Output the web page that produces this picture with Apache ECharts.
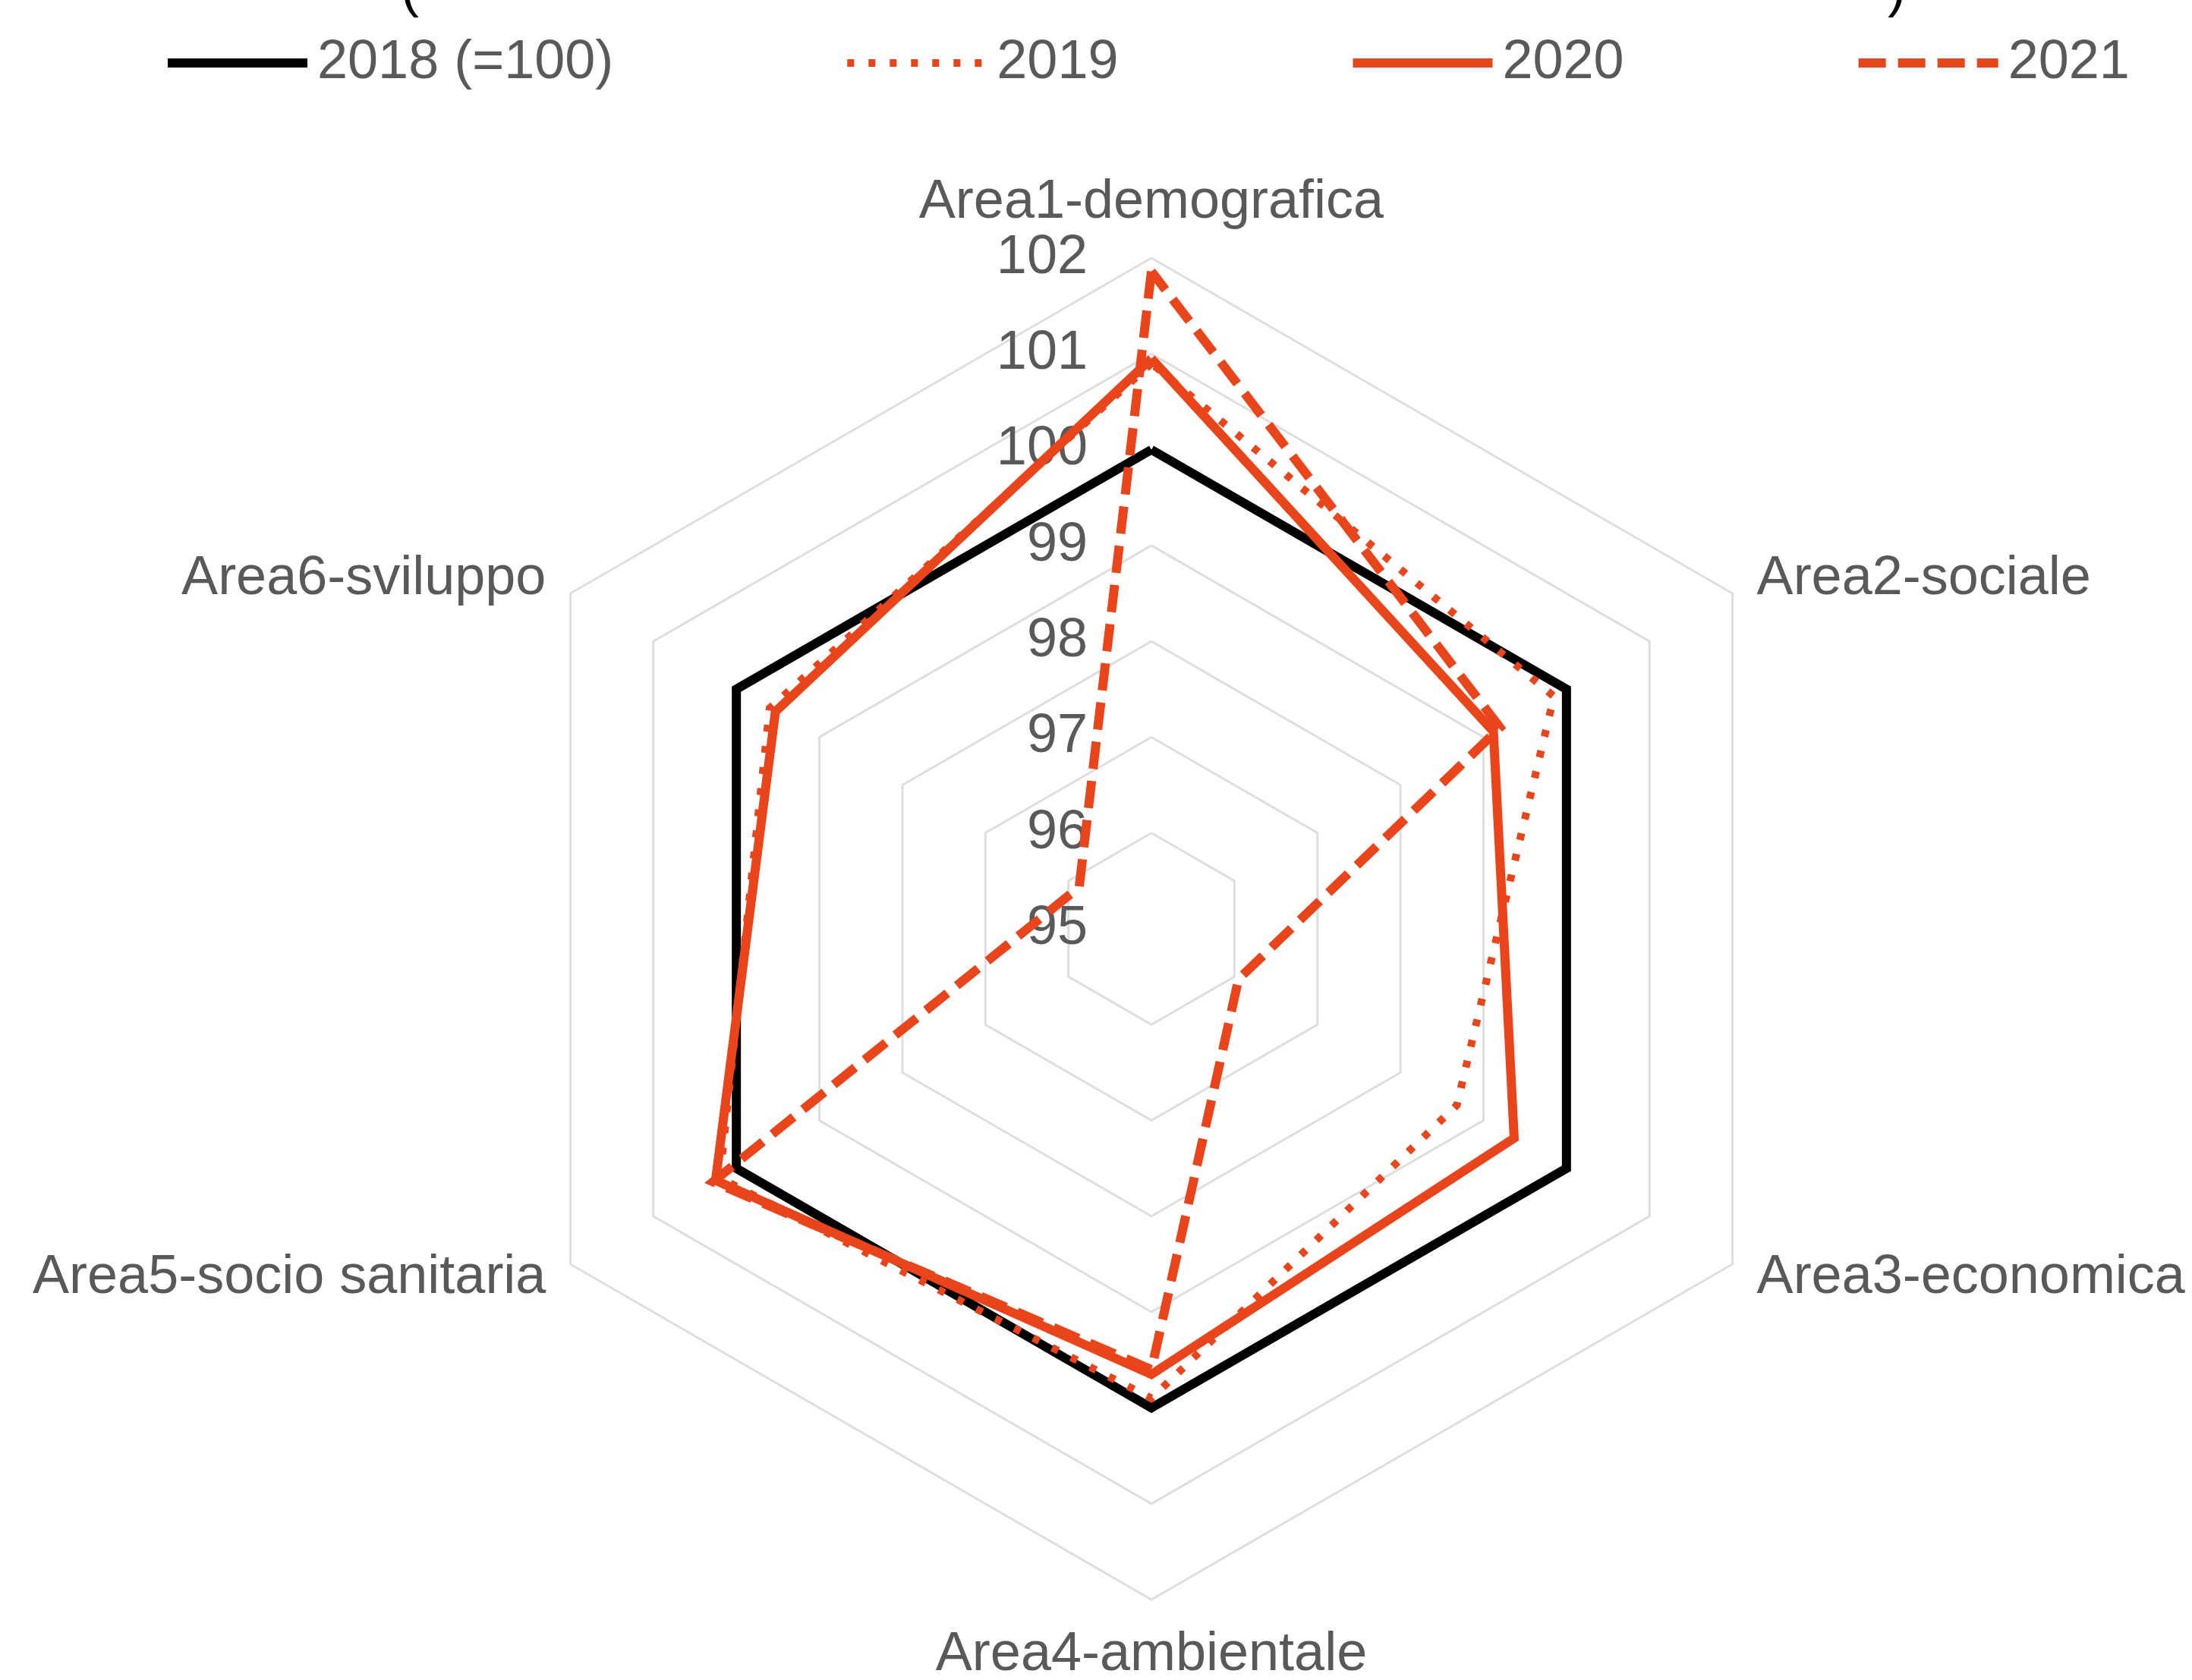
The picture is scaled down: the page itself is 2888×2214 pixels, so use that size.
<!DOCTYPE html>
<html>
<head>
<meta charset="utf-8">
<script src="https://cdn.jsdelivr.net/npm/echarts@6/dist/echarts.min.js"></script>
<style>
html,body{margin:0;padding:0;background:#fff;}
#chart{width:2888px;height:2214px;}
</style>
</head>
<body>
<div id="chart"></div>
<script>
// ---- data ----
var categories = ['Area1-demografica', 'Area2-sociale', 'Area3-economica', 'Area4-ambientale', 'Area5-socio sanitaria', 'Area6-sviluppo'];
var seriesNames = ['2018 (=100)', '2019', '2020', '2021'];
var values2018 = [100, 100, 100, 100, 100, 100];
var values2019 = [100.9, 99.85, 98.68, 99.9, 100.2, 99.6];
var values2020 = [100.95, 99.12, 99.37, 99.65, 100.25, 99.53];
var values2021 = [101.86, 99.2, 96.05, 99.6, 100.28, 95.87];
var axisMin = 95, axisMax = 102;

// ---- styles ----
var FONT = 'Liberation Sans, Arial, sans-serif';
var TEXT = '#595959';
var ORANGE = '#E9441A';
var styles = [
  {color: '#000000', width: 12, type: 'solid'},
  {color: ORANGE, width: 10, type: [9, 19]},
  {color: ORANGE, width: 12, type: 'solid'},
  {color: ORANGE, width: 12, type: [36, 16]}
];

// radar places indicators counter-clockwise; reorder so the order runs clockwise
var order = [0, 5, 4, 3, 2, 1];
var indicators = order.map(function (i, k) {
  var ind = {name: categories[i], min: axisMin, max: axisMax};
  if (k === 0) {
    ind.axisLabel = {show: true, fontSize: 72, color: TEXT, fontFamily: FONT, margin: 84, showMinLabel: true, showMaxLabel: true};
  }
  return ind;
});
function reorder(arr) { return order.map(function (i) { return arr[i]; }); }
var allValues = [values2018, values2019, values2020, values2021];

var series = [];
// empty line series only supply the line-style legend icons
seriesNames.forEach(function (n, i) {
  series.push({
    type: 'line', name: n, data: [], symbol: 'none', silent: true,
    xAxisIndex: 0, yAxisIndex: 0,
    lineStyle: {color: styles[i].color, width: styles[i].width, type: styles[i].type, cap: 'butt'},
    itemStyle: {color: styles[i].color}
  });
});
seriesNames.forEach(function (n, i) {
  series.push({
    type: 'radar', name: n, symbol: 'none', silent: true,
    lineStyle: {color: styles[i].color, width: styles[i].width, type: styles[i].type, cap: 'butt', join: 'miter'},
    itemStyle: {color: styles[i].color},
    data: [{value: reorder(allValues[i]), name: n}]
  });
});

var legendData = seriesNames.map(function (n, i) {
  return {
    name: n,
    lineStyle: {color: styles[i].color, width: styles[i].width, type: styles[i].type, cap: 'butt'},
    itemStyle: {color: 'rgba(0,0,0,0)', borderWidth: 0, opacity: 0}
  };
});

var chart = echarts.init(document.getElementById('chart'), null, {renderer: 'canvas'});
chart.setOption({
  animation: false,
  backgroundColor: '#ffffff',
  textStyle: {fontFamily: FONT},
  graphic: [
    {type: 'text', left: 528, top: -48, style: {text: '(', font: '72px ' + FONT, fill: '#000'}},
    {type: 'text', left: 2487, top: -48, style: {text: ')', font: '72px ' + FONT, fill: '#000'}}
  ],
  legend: {
    top: 42, left: 210,
    itemWidth: 184, itemHeight: 40, itemGap: 303,
    data: legendData,
    itemStyle: {color: 'rgba(0,0,0,0)', borderWidth: 0, opacity: 0},
    lineStyle: {width: 'inherit', type: 'inherit'},
    textStyle: {fontSize: 72, color: TEXT, fontFamily: FONT, padding: [0, 0, 0, 8]}
  },
  grid: {show: false, left: 0, top: 0, width: 2, height: 2},
  xAxis: {type: 'category', show: false, data: []},
  yAxis: {type: 'value', show: false},
  radar: {
    center: [1517, 1224],
    radius: 884,
    startAngle: 90,
    splitNumber: 7,
    shape: 'polygon',
    nameGap: 37,
    axisName: {color: TEXT, fontSize: 72, fontFamily: FONT},
    axisLine: {show: false},
    axisTick: {show: false},
    axisLabel: {show: false},
    splitArea: {show: false},
    splitLine: {lineStyle: {color: '#DEDEDE', width: 3}},
    indicator: indicators
  },
  series: series
});
</script>
</body>
</html>
